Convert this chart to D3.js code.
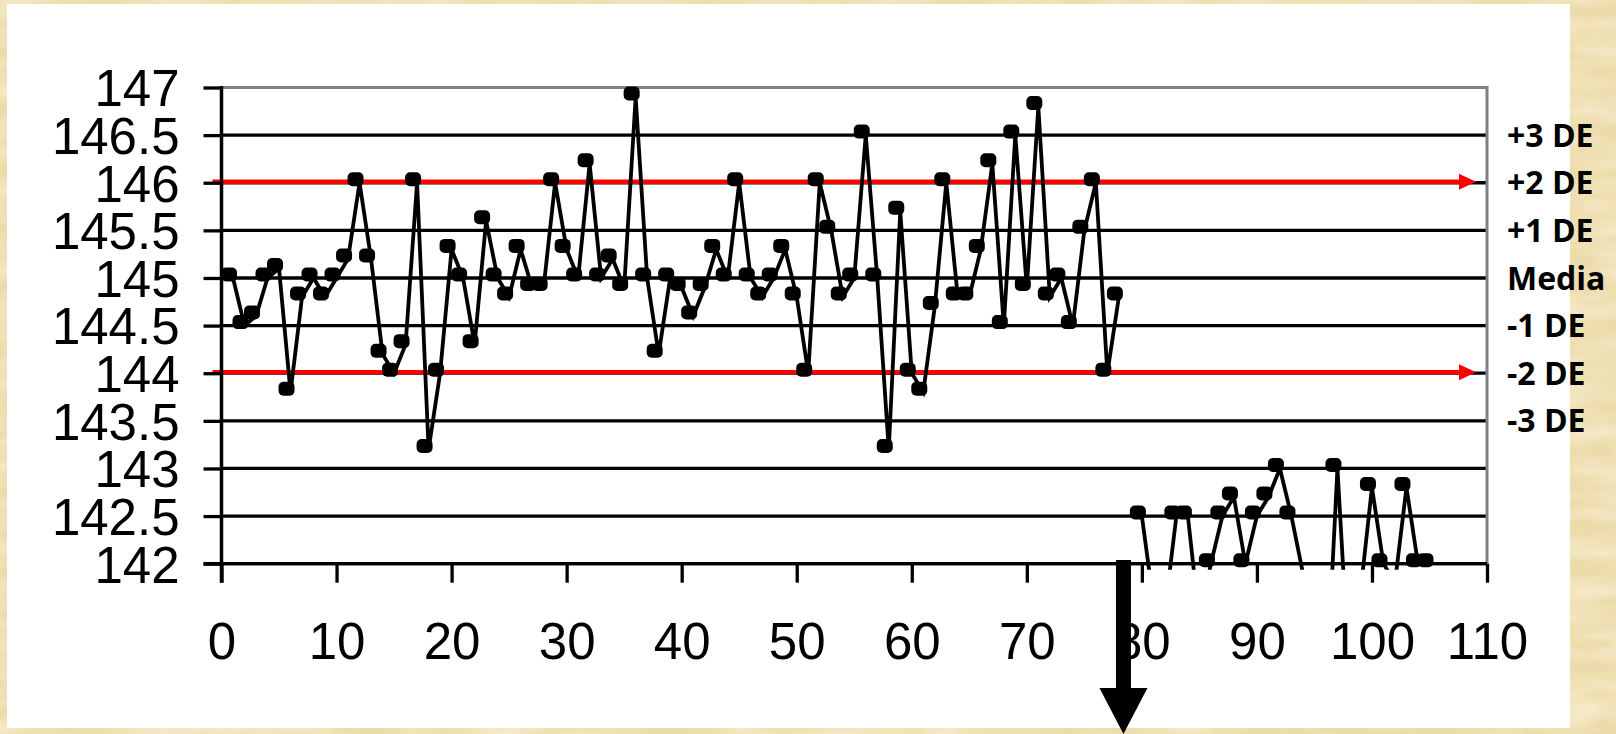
<!DOCTYPE html>
<html>
<head>
<meta charset="utf-8">
<script src="https://cdn.jsdelivr.net/npm/d3@7"></script>
<style>
  html, body { margin: 0; padding: 0; overflow: hidden; background: #efdfb2; }
  svg { display: block; }
</style>
</head>
<body>
<svg id="chart" width="1616" height="734"></svg>
<script>
// Axis ticks
const yTicks = [142, 142.5, 143, 143.5, 144, 144.5, 145, 145.5, 146, 146.5, 147];
const xTicks = [0, 10, 20, 30, 40, 50, 60, 70, 80, 90, 100, 110];

// Standard-deviation bands (right-hand labels)
const bandLevels = [146.5, 146, 145.5, 145, 144.5, 144, 143.5];
const bandLabels = ["+3 DE", "+2 DE", "+1 DE", "Media", "-1 DE", "-2 DE", "-3 DE"];

// Control limits drawn in red (±2 DE)
const limitLevels = [146, 144];

// Run 1: samples 1–78
const run1Start = 1;
const run1Values = [
  145, 144.5, 144.6, 145, 145.1, 143.8, 144.8, 145, 144.8, 145,
  145.2, 146, 145.2, 144.2, 144, 144.3, 146, 143.2, 144, 145.3,
  145, 144.3, 145.6, 145, 144.8, 145.3, 144.9, 144.9, 146, 145.3,
  145, 146.2, 145, 145.2, 144.9, 146.9, 145, 144.2, 145, 144.9,
  144.6, 144.9, 145.3, 145, 146, 145, 144.8, 145, 145.3, 144.8,
  144, 146, 145.5, 144.8, 145, 146.5, 145, 143.2, 145.7, 144,
  143.8, 144.7, 146, 144.8, 144.8, 145.3, 146.2, 144.5, 146.5, 144.9,
  146.8, 144.8, 145, 144.5, 145.5, 146, 144, 144.8
];

// Run 2: samples 80–105 (after the shift; values under 142 fall off the axis)
const run2Start = 80;
const run2Values = [
  142.5, 141.6, 141.5, 142.5, 142.5, 141.4, 142, 142.5, 142.7, 142,
  142.5, 142.7, 143, 142.5, 141.9, 141.2, 140.6, 143, 140.9, 141.7,
  142.8, 142, 141.8, 142.8, 142, 142
];

// Sample where the process shifts (arrow)
const shiftAt = 78.4;

const svg = d3.select("#chart");
const W = 1616, H = 734;

// Parchment background texture
const defs = svg.append("defs");
const paper = defs.append("filter").attr("id", "paper")
  .attr("x", 0).attr("y", 0).attr("width", "100%").attr("height", "100%");
paper.append("feTurbulence")
  .attr("type", "fractalNoise").attr("baseFrequency", "0.015 0.05")
  .attr("numOctaves", 4).attr("seed", 11).attr("result", "n");
paper.append("feColorMatrix").attr("in", "n").attr("type", "matrix")
  .attr("values", "0 0 0 0 0.99  0 0 0 0 0.95  0 0 0 0 0.84  0.9 0 0 0 -0.3");

svg.append("rect").attr("width", W).attr("height", H).attr("fill", "#eddcab");
svg.append("rect").attr("width", W).attr("height", H).attr("filter", "url(#paper)");

// White chart panel
svg.append("rect")
  .attr("x", 7).attr("y", 4).attr("width", 1563).attr("height", 724)
  .attr("fill", "#ffffff");

const x = d3.scaleLinear().domain([0, 110]).range([221.5, 1487]);
const y = d3.scaleLinear().domain([142, 147]).range([563.7, 87.5]);

const axisFont = "'Liberation Sans', Arial, sans-serif";

// Horizontal gridlines
svg.append("g").selectAll("line")
  .data(yTicks.filter(v => v < 147))
  .join("line")
  .attr("x1", x(0)).attr("x2", x(110))
  .attr("y1", d => y(d)).attr("y2", d => y(d))
  .attr("stroke", "#000").attr("stroke-width", 3.3);

// Plot frame: grey top and right edges
svg.append("path")
  .attr("d", `M${x(0)},${y(147)}H${x(110)}V${y(142)}`)
  .attr("fill", "none").attr("stroke", "#808080").attr("stroke-width", 3);

// Red control limits with arrow heads
const limits = svg.append("g");
limitLevels.forEach(v => {
  const yy = y(v) - 1;
  const x0 = x(0) - 9, tip = x(110) - 11;
  limits.append("line")
    .attr("x1", x0).attr("x2", tip - 14)
    .attr("y1", yy).attr("y2", yy)
    .attr("stroke", "#ff0000").attr("stroke-width", 4.5);
  limits.append("path")
    .attr("d", `M${tip - 17},${yy - 8}L${tip},${yy}L${tip - 17},${yy + 8}Z`)
    .attr("fill", "#ff0000");
});

// Y axis
const yAxis = svg.append("g")
  .attr("transform", `translate(${x(0)},0)`)
  .call(d3.axisLeft(y).tickValues(yTicks).tickSize(18).tickSizeOuter(0).tickFormat(d => String(d)));
yAxis.select(".domain").remove();
yAxis.selectAll(".tick line").attr("stroke", "#000").attr("stroke-width", 3.3);
yAxis.selectAll(".tick text")
  .attr("x", -42).attr("dy", "0.36em")
  .attr("font-family", axisFont).attr("font-size", 51).attr("fill", "#000");
svg.append("line")
  .attr("x1", x(0)).attr("x2", x(0))
  .attr("y1", y(147) - 1.5).attr("y2", y(142) + 19)
  .attr("stroke", "#000").attr("stroke-width", 3.5);

// X axis
const xAxis = svg.append("g")
  .attr("transform", `translate(0,${y(142)})`)
  .call(d3.axisBottom(x).tickValues(xTicks).tickSize(19).tickSizeOuter(0));
xAxis.select(".domain").remove();
xAxis.selectAll(".tick line").attr("stroke", "#000").attr("stroke-width", 3.3);
xAxis.selectAll(".tick text")
  .attr("y", 95).attr("dy", 0)
  .attr("font-family", axisFont).attr("font-size", 51).attr("fill", "#000");
svg.append("line")
  .attr("x1", x(0) - 18).attr("x2", x(110))
  .attr("y1", y(142)).attr("y2", y(142))
  .attr("stroke", "#000").attr("stroke-width", 3.3);

// Series
const run1 = run1Values.map((v, i) => ({ n: run1Start + i, v }));
const run2 = run2Values.map((v, i) => ({ n: run2Start + i, v }));

defs.append("clipPath").attr("id", "plotClip")
  .append("rect")
  .attr("x", x(0)).attr("y", y(147) - 10)
  .attr("width", x(110) - x(0)).attr("height", y(142) - y(147) + 16);

const line = d3.line().x(d => x(d.n)).y(d => y(d.v));
const series = svg.append("g").attr("clip-path", "url(#plotClip)");
[run1, run2].forEach(run => {
  series.append("path")
    .datum(run)
    .attr("d", line)
    .attr("fill", "none").attr("stroke", "#000")
    .attr("stroke-width", 3.8).attr("stroke-linejoin", "miter");
});

// Square markers (only for points that sit on the plotted range)
const visible = run1.concat(run2).filter(d => d.v >= 142);
svg.append("g").selectAll("rect")
  .data(visible)
  .join("rect")
  .attr("x", d => x(d.n) - 4 - 8)
  .attr("y", d => y(d.v) - 3.5 - 7)
  .attr("width", 16).attr("height", 14)
  .attr("rx", 5).attr("ry", 5)
  .attr("fill", "#000");

// Band labels on the right
svg.append("g").selectAll("text")
  .data(bandLevels)
  .join("text")
  .attr("x", 1507)
  .attr("y", d => y(d))
  .attr("dy", "0.36em")
  .attr("font-family", "'Open Sans', 'Noto Sans', sans-serif")
  .attr("font-weight", 700)
  .attr("font-size", 32)
  .attr("fill", "#000")
  .text((d, i) => bandLabels[i]);

// Arrow marking the shift
const ax = x(shiftAt);
svg.append("rect")
  .attr("x", ax - 7.5).attr("y", 560)
  .attr("width", 15).attr("height", 132)
  .attr("fill", "#000");
svg.append("path")
  .attr("d", `M${ax - 24},688L${ax + 24},688L${ax},734Z`)
  .attr("fill", "#000");
</script>
</body>
</html>
